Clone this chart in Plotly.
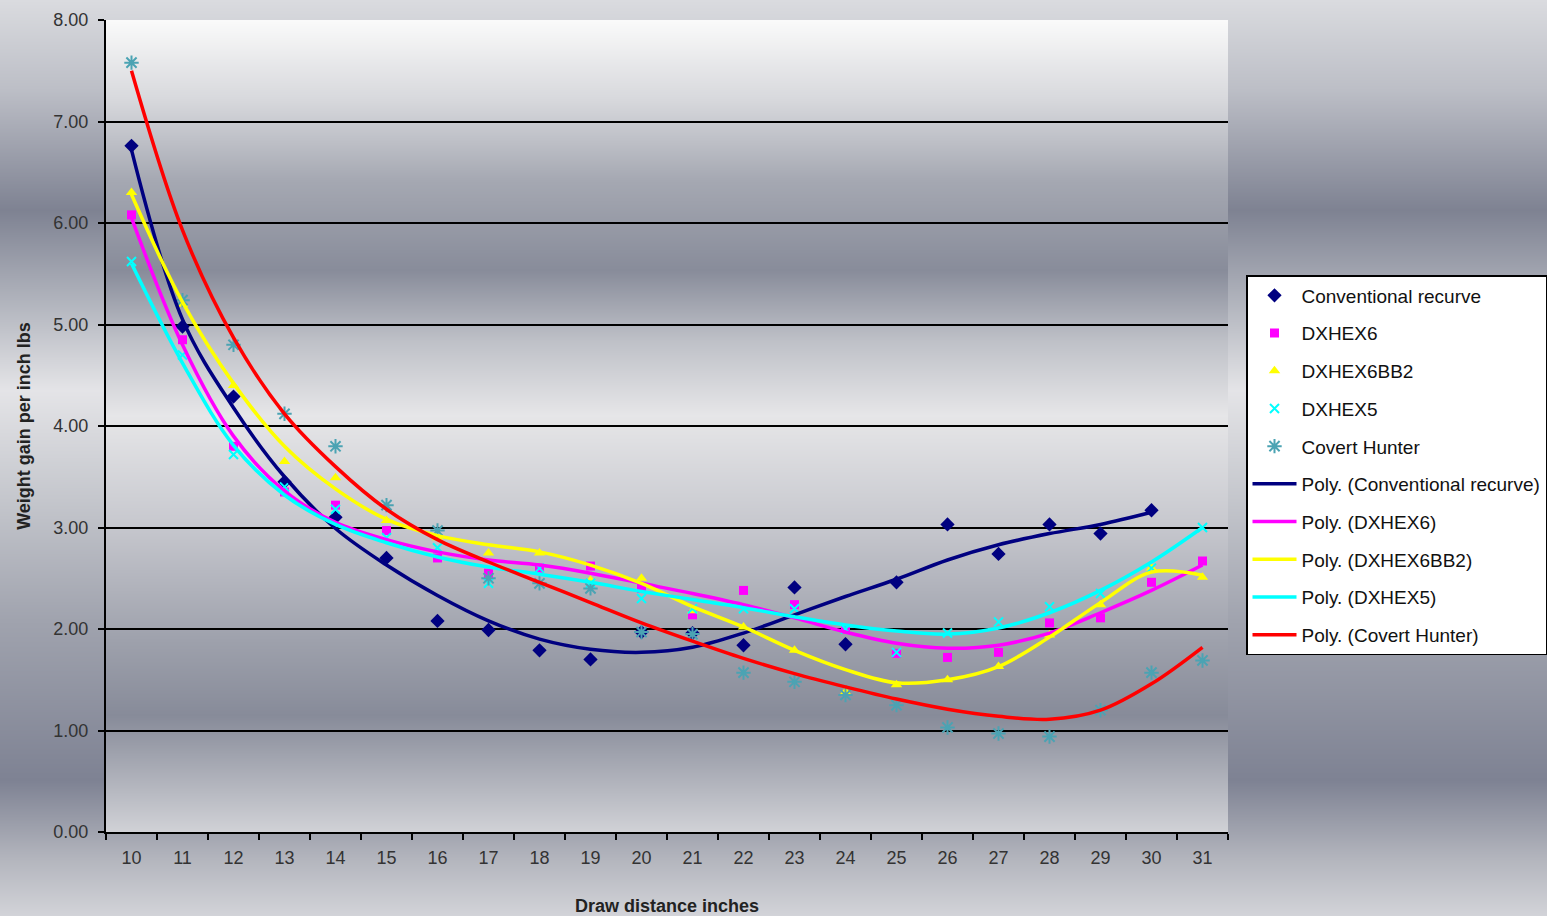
import base64
import struct
import zlib

import plotly.graph_objects as go

# draw distance categories (inches)
draw_in = [str(i) for i in range(10, 32)]

# measured weight gain per inch (lbs)
conventional = [6.76, 4.98, 4.29, 3.45, 3.10, 2.70, 2.08, 1.99, 1.79, 1.70, 1.97,
                1.96, 1.84, 2.41, 1.85, 2.46, 3.03, 2.74, 3.03, 2.94, 3.17, None]
dxhex6 = [6.08, 4.85, 3.80, 3.35, 3.22, 2.97, 2.70, 2.55, 2.60, 2.62, 2.40,
          2.14, 2.38, 2.24, 2.00, 1.76, 1.72, 1.77, 2.06, 2.11, 2.46, 2.67]
dxhex6bb2 = [6.30, 5.20, 4.40, 3.65, 3.49, 3.07, 2.90, 2.75, 2.75, 2.48, 2.50,
             2.18, 2.02, 1.79, 1.38, 1.45, 1.50, 1.63, 1.94, 2.24, 2.60, 2.51]
dxhex5 = [5.62, 4.70, 3.72, 3.40, 3.18, 2.90, 2.80, 2.45, 2.60, 2.45, 2.30,
          2.20, 2.20, 2.20, 2.00, 1.77, 1.96, 2.07, 2.22, 2.35, 2.60, 3.00]
covert = [7.58, 5.24, 4.80, 4.12, 3.80, 3.22, 2.97, 2.50, 2.45, 2.40, 1.97,
          1.95, 1.57, 1.48, 1.35, 1.25, 1.03, 0.97, 0.94, 1.20, 1.57, 1.69]

# polynomial trendlines as drawn in the chart, read at each category
poly_conventional = [6.72, 5.05, 4.18, 3.50, 2.99, 2.63, 2.33, 2.08, 1.90, 1.80, 1.77,
                     1.82, 1.96, 2.14, 2.32, 2.49, 2.68, 2.83, 2.94, 3.03, 3.15, None]
poly_dxhex6 = [6.05, 4.80, 3.90, 3.36, 3.05, 2.88, 2.76, 2.68, 2.63, 2.55, 2.45,
               2.35, 2.24, 2.11, 1.97, 1.86, 1.81, 1.84, 1.96, 2.16, 2.38, 2.63]
poly_dxhex6bb2 = [6.28, 5.22, 4.42, 3.80, 3.38, 3.08, 2.92, 2.83, 2.76, 2.63, 2.45,
                  2.22, 2.02, 1.79, 1.60, 1.47, 1.50, 1.63, 1.92, 2.26, 2.56, 2.53]
poly_dxhex5 = [5.60, 4.62, 3.81, 3.32, 3.03, 2.85, 2.71, 2.61, 2.54, 2.46, 2.37,
               2.29, 2.21, 2.12, 2.04, 1.98, 1.95, 2.01, 2.16, 2.38, 2.66, 3.00]
poly_covert = [7.50, 5.93, 4.87, 4.12, 3.60, 3.18, 2.88, 2.66, 2.46, 2.26, 2.06,
               1.88, 1.71, 1.56, 1.43, 1.31, 1.21, 1.14, 1.11, 1.20, 1.46, 1.82]

y_ticks = [0, 1, 2, 3, 4, 5, 6, 7, 8]


def gradient_png(stops, height):
    # tiny vertical gradient png, stops are (pixel row, (r, g, b))
    rows = []
    for row in range(height):
        for (p0, c0), (p1, c1) in zip(stops, stops[1:]):
            if p0 <= row <= p1:
                t = (row - p0) / (p1 - p0)
                rgb = bytes(round(a + (b - a) * t) for a, b in zip(c0, c1))
                break
        rows.append(b"\x00" + rgb * 2)

    def chunk(tag, data):
        return (struct.pack(">I", len(data)) + tag + data
                + struct.pack(">I", zlib.crc32(tag + data) & 0xFFFFFFFF))

    png = (b"\x89PNG\r\n\x1a\n"
           + chunk(b"IHDR", struct.pack(">IIBBBBB", 2, height, 8, 2, 0, 0, 0))
           + chunk(b"IDAT", zlib.compress(b"".join(rows)))
           + chunk(b"IEND", b""))
    return "data:image/png;base64," + base64.b64encode(png).decode()


W, H = 1547, 916
L, R, T, B = 106, 1228, 20, 832  # plot area in pixels
pw, ph = R - L, B - T

paper_bg = gradient_png([(0, (218, 219, 223)), (90, (188, 190, 198)), (210, (126, 130, 146)),
                         (300, (176, 179, 188)), (390, (228, 228, 231)), (500, (196, 198, 204)),
                         (620, (160, 163, 174)), (780, (126, 130, 147)), (860, (180, 182, 190)),
                         (915, (210, 211, 216))], H)
plot_bg = gradient_png([(0, (250, 250, 250)), (80, (215, 216, 220)), (160, (165, 168, 178)),
                        (250, (136, 140, 154)), (320, (190, 192, 199)), (395, (230, 230, 232)),
                        (500, (200, 201, 207)), (620, (158, 161, 172)), (695, (135, 139, 153)),
                        (811, (208, 209, 214))], ph)

fig = go.Figure()

markers = [
    ("Conventional recurve", conventional, "diamond", "#000080", 11, 0),
    ("DXHEX6", dxhex6, "square", "#FF00FF", 9, 0),
    ("DXHEX6BB2", dxhex6bb2, "triangle-up", "#FFFF00", 10, 0),
    ("DXHEX5", dxhex5, "x-thin-open", "#00FFFF", 9, 2),
    ("Covert Hunter", covert, "asterisk-open", "#4BA3B3", 12, 2),
]
for name, ys, sym, col, size, lw in markers:
    fig.add_trace(go.Scatter(
        x=draw_in, y=ys, mode="markers", name=name, legendgroup=name,
        marker=dict(symbol=sym, color=col, size=size, line=dict(width=lw, color=col)),
    ))

trends = [
    ("Poly. (Conventional recurve)", poly_conventional, "#000080"),
    ("Poly. (DXHEX6)", poly_dxhex6, "#FF00FF"),
    ("Poly. (DXHEX6BB2)", poly_dxhex6bb2, "#FFFF00"),
    ("Poly. (DXHEX5)", poly_dxhex5, "#00FFFF"),
    ("Poly. (Covert Hunter)", poly_covert, "#FF0000"),
]
for name, ys, col in trends:
    fig.add_trace(go.Scatter(
        x=draw_in, y=ys, mode="lines", name=name, legendgroup=name,
        line=dict(color=col, width=3.5, shape="spline", smoothing=1.0),
    ))

fig.update_layout(
    width=W, height=H,
    margin=dict(l=L, r=W - R, t=T, b=H - B, autoexpand=False),
    paper_bgcolor="#c8cad0",
    plot_bgcolor="rgba(0,0,0,0)",
    font=dict(family="Liberation Sans, Arial, sans-serif", color="#222222"),
    images=[
        dict(source=paper_bg, xref="paper", yref="paper", x=-L / pw, y=B / ph,
             sizex=W / pw, sizey=H / ph, xanchor="left", yanchor="top",
             sizing="stretch", layer="below"),
        dict(source=plot_bg, xref="paper", yref="paper", x=0, y=1, sizex=1, sizey=1,
             xanchor="left", yanchor="top", sizing="stretch", layer="below"),
    ],
    showlegend=True,
    legend=dict(
        x=(1246 - L) / pw, y=(B - 275) / ph, xanchor="left", yanchor="top",
        bgcolor="white", bordercolor="black", borderwidth=1.5,
        font=dict(size=19, color="#111111"), tracegroupgap=10,
        itemwidth=44,
    ),
    xaxis=dict(
        type="category", categoryorder="array", categoryarray=draw_in,
        range=[-0.5, len(draw_in) - 0.5],
        tickson="boundaries", ticks="outside", ticklen=6, tickwidth=2, tickcolor="black",
        showline=True, linecolor="black", linewidth=2, showgrid=False,
        tickfont=dict(size=18, color="#333333"), ticklabelstandoff=8,
        title=dict(text="<b>Draw distance inches</b>", font=dict(size=18, color="#222222"),
                   standoff=34),
    ),
    yaxis=dict(
        range=[0, 8], tickvals=y_ticks, tickformat=".2f",
        ticks="outside", ticklen=6, tickwidth=2, tickcolor="black",
        showline=True, linecolor="black", linewidth=2,
        showgrid=True, gridcolor="black", gridwidth=2, zeroline=False,
        tickfont=dict(size=18, color="#333333"), ticklabelstandoff=6,
        title=dict(text="<b>Weight gain per inch lbs</b>", font=dict(size=18, color="#222222"),
                   standoff=18),
    ),
)

fig.write_html("out.html", config={"displayModeBar": False},
               post_script="document.body.style.margin = '0';")
